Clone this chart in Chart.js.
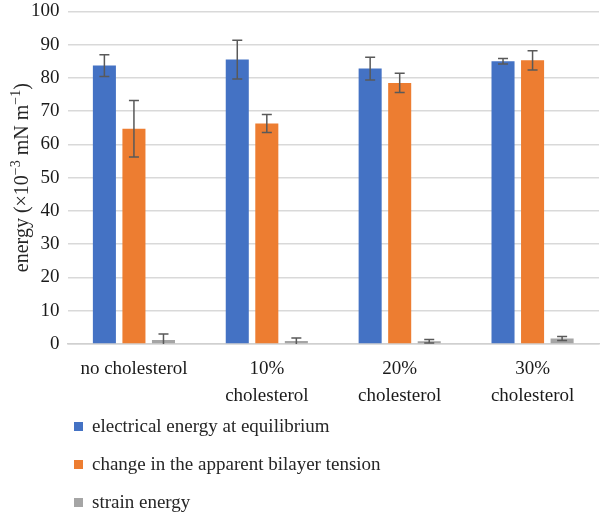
<!DOCTYPE html>
<html>
<head>
<meta charset="utf-8">
<script src="https://cdn.jsdelivr.net/npm/chart.js@4"></script>
<style>
  html, body { margin: 0; padding: 0; background: #fff; overflow: hidden; }
  #wrap { position: relative; width: 600px; height: 513px; overflow: hidden; }
  #chart { position: absolute; left: 0; top: -8px; }
  #legend { position: absolute; left: 74px; top: 407px; font-family: "Liberation Serif", serif; font-size: 19px; color: #262626; }
  #legend .item { display: flex; align-items: center; height: 38px; white-space: nowrap; }
  #legend .box { width: 9px; height: 9px; margin-right: 9px; }
</style>
</head>
<body>
<div id="wrap">
  <canvas id="chart" width="600" height="521"></canvas>
  <div id="legend"></div>
</div>
<script>
// ======= Data =======
const categories = ['no cholesterol', ['10%', 'cholesterol'], ['20%', 'cholesterol'], ['30%', 'cholesterol']];
const seriesNames = ['electrical energy at equilibrium', 'change in the apparent bilayer tension', 'strain energy'];
const electrical = [83.7, 85.5, 82.8, 85.0];
const electricalErr = [3.3, 5.8, 3.4, 0.8];
const tension = [64.7, 66.3, 78.5, 85.3];
const tensionErr = [8.5, 2.7, 2.9, 2.9];
const strain = [1.2, 0.9, 0.8, 1.6];
const strainErr = [1.8, 0.9, 0.5, 0.6];
const colors = ['#4472C4', '#ED7D31', '#A5A5A5'];
const yTicks = { min: 0, max: 100, step: 10 };

const FONT = '"Liberation Serif", "Times New Roman", serif';

// ======= Plugins =======
const errorBars = {
  id: 'errorBars',
  afterDatasetsDraw(chart) {
    const ctx = chart.ctx;
    const y = chart.scales.y;
    ctx.save();
    ctx.strokeStyle = '#595959';
    ctx.lineWidth = 1.5;
    chart.data.datasets.forEach((ds, i) => {
      const meta = chart.getDatasetMeta(i);
      meta.data.forEach((bar, j) => {
        const v = ds.data[j], e = ds.err[j];
        const top = y.getPixelForValue(v + e);
        const bot = y.getPixelForValue(Math.max(0, v - e));
        ctx.beginPath();
        ctx.moveTo(bar.x, top); ctx.lineTo(bar.x, bot);
        ctx.moveTo(bar.x - 5, top); ctx.lineTo(bar.x + 5, top);
        if (v - e > 0) { ctx.moveTo(bar.x - 5, bot); ctx.lineTo(bar.x + 5, bot); }
        ctx.stroke();
      });
    });
    ctx.restore();
  }
};

// y axis title with real superscripts, centred on the plot area
const yTitle = {
  id: 'yTitle',
  afterDraw(chart) {
    const ctx = chart.ctx;
    const area = chart.chartArea;
    const parts = [['energy (×10', false], ['−3', true], [' mN m', false], ['−1', true], [')', false]];
    const font = s => s ? `14px ${FONT}` : `20px ${FONT}`;
    let total = 0;
    parts.forEach(([t, s]) => { ctx.font = font(s); total += ctx.measureText(t).width; });
    ctx.save();
    ctx.translate(28, (area.top + area.bottom) / 2);
    ctx.rotate(-Math.PI / 2);
    ctx.fillStyle = '#262626';
    ctx.textBaseline = 'alphabetic';
    ctx.textAlign = 'left';
    let x = -total / 2;
    parts.forEach(([t, s]) => {
      ctx.font = font(s);
      ctx.fillText(t, x, s ? -8 : 0);
      x += ctx.measureText(t).width;
    });
    ctx.restore();
  }
};

// ======= Chart =======
const values = [electrical, tension, strain];
const errs = [electricalErr, tensionErr, strainErr];

new Chart(document.getElementById('chart'), {
  type: 'bar',
  data: {
    labels: categories,
    datasets: seriesNames.map((name, i) => ({
      label: name,
      data: values[i],
      err: errs[i],
      backgroundColor: colors[i],
      categoryPercentage: 0.667,
      barPercentage: 0.78
    }))
  },
  options: {
    responsive: false,
    animation: false,
    layout: { padding: { left: 23, right: 1, top: 0, bottom: 92 } },
    plugins: { legend: { display: false }, tooltip: { enabled: false } },
    scales: {
      x: {
        grid: { display: false, drawTicks: false },
        border: { display: true, color: '#d0d0d0', width: 1.5 },
        ticks: { color: '#1a1a1a', padding: 11, font: { family: FONT, size: 19, lineHeight: 1.45 }, maxRotation: 0 }
      },
      y: {
        min: yTicks.min, max: yTicks.max,
        grid: { color: '#d9d9d9', lineWidth: 1.5, drawTicks: false },
        border: { display: false },
        ticks: { stepSize: yTicks.step, color: '#1a1a1a', padding: 8, font: { family: FONT, size: 19 } }
      }
    }
  },
  plugins: [errorBars, yTitle]
});

// ======= Legend (HTML) =======
const legendEl = document.getElementById('legend');
seriesNames.forEach((name, i) => {
  const row = document.createElement('div');
  row.className = 'item';
  row.innerHTML = `<span class="box" style="background:${colors[i]}"></span><span>${name}</span>`;
  legendEl.appendChild(row);
});
</script>
</body>
</html>
